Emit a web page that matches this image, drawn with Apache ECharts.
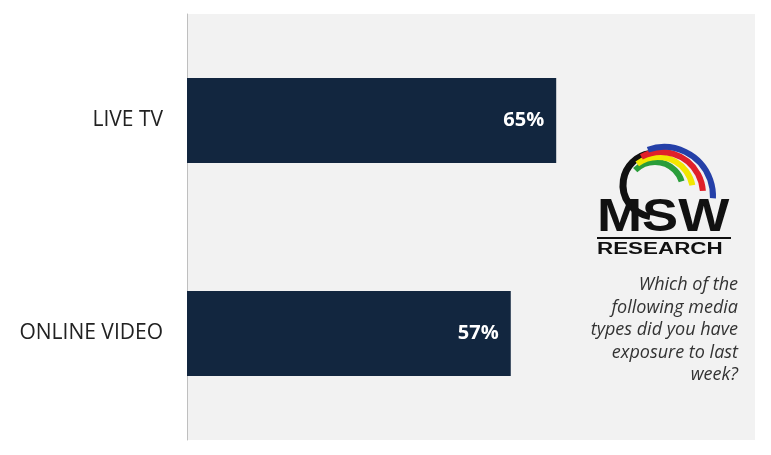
<!DOCTYPE html>
<html><head><meta charset="utf-8">
<script src="https://cdn.jsdelivr.net/npm/echarts@6/dist/echarts.min.js"></script>
<style>html,body{margin:0;padding:0;background:#fff}#c{width:771px;height:455px}</style>
</head><body><div id="c"></div>
<script>
const categories = ['LIVE TV', 'ONLINE VIDEO'];
const values = [65, 57];
const questionLines = ['Which of the', 'following media', 'types did you have', 'exposure to last', 'week?'];

const chart = echarts.init(document.getElementById('c'));
const graphics = [];
graphics.push({type:'arc', shape:{cx:655,cy:185,r:32,startAngle:Math.PI*0.55,endAngle:Math.PI*1.45}, style:{stroke:'#111',lineWidth:7,fill:null}});
const cols=['#2a9d3a','#f2e600','#e0202a','#2540a8'];
for(let i=0;i<4;i++){
  graphics.push({type:'arc', shape:{cx:655+i*3,cy:190+i*2,r:28+i*7,startAngle:-Math.PI*0.75+i*0.15,endAngle:-Math.PI*0.1+i*0.12}, style:{stroke:cols[i],lineWidth:6,fill:null}});
}
graphics.push({type:'text', x:597, y:195, scaleX:1.23, scaleY:1.05, style:{text:'MSW', font:'bold 44px "Liberation Sans", Arial', fill:'#111'}});
graphics.push({type:'rect', shape:{x:597,y:237,width:134,height:2}, style:{fill:'#111'}});
graphics.push({type:'text', x:597, y:242, scaleX:1.4, style:{text:'RESEARCH', font:'bold 16px "Liberation Sans", Arial', fill:'#111'}});
questionLines.forEach((t,i)=>{
  graphics.push({type:'text', right:33, top:276+i*22.5, style:{text:t, font:'italic 18px "Open Sans", "Liberation Sans"', fill:'#333', textAlign:'right'}});
});

chart.setOption({
  animation:false,
  grid:{left:187, right:16, top:14, bottom:15, show:true, backgroundColor:'#f2f2f2', borderWidth:0},
  xAxis:{type:'value', min:0, max:100, show:false},
  yAxis:{type:'category', data:categories, inverse:true,
    axisLine:{lineStyle:{color:'#bfbfbf'}}, axisTick:{show:false},
    axisLabel:{fontSize:21, color:'#222', fontFamily:'"Open Sans", "Liberation Sans"', margin:24}},
  series:[{type:'bar', data:values, barWidth:85, itemStyle:{color:'#12263f'},
    label:{show:true, position:'insideRight', formatter:'{c}%', color:'#fff', fontWeight:'bold', fontSize:20, fontFamily:'"Open Sans", "Liberation Sans"', distance:12}}],
  graphic:graphics
});
</script></body></html>
